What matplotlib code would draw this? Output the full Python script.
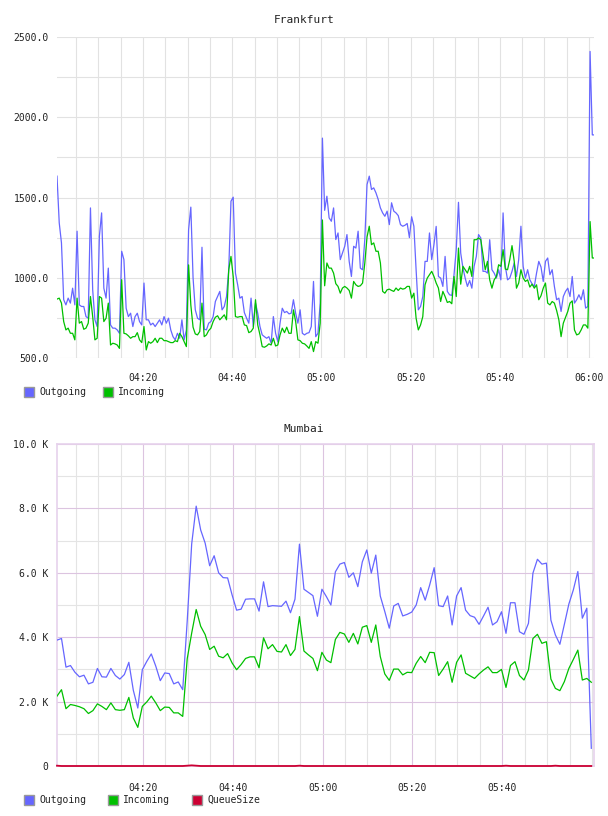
import matplotlib
matplotlib.use("Agg")
import matplotlib.pyplot as plt
from matplotlib.patches import Rectangle
from matplotlib.ticker import FixedLocator, FuncFormatter, MultipleLocator

# ---- Frankfurt: one sample every 30 s, first one at 04:00:43 (minutes after 04:00)
fra_start = 0.72
fra_step = 0.5
fra_out = [1633, 1342, 1217, 863, 831, 873, 842, 935, 831, 1290,
           831, 821, 821, 758, 748, 1435, 925, 738, 696, 1258,
           1404, 935, 873, 1060, 706, 686, 686, 675, 654, 1165,
           1113, 810, 758, 779, 696, 758, 779, 727, 706, 967,
           738, 738, 706, 717, 696, 717, 738, 706, 758, 717,
           748, 675, 633, 613, 654, 623, 738, 613, 675, 1300,
           1440, 1000, 800, 748, 738, 1190, 680, 675, 717, 727,
           758, 852, 883, 915, 800, 821, 883, 1050, 1477, 1502,
           1029, 956, 873, 883, 783, 748, 717, 873, 696, 842,
           779, 696, 644, 633, 623, 633, 592, 758, 654, 602,
           717, 810, 783, 790, 775, 779, 863, 779, 717, 800,
           654, 644, 654, 658, 696, 977, 633, 654, 842, 1870,
           1420, 1508, 1373, 1352, 1435, 1238, 1279, 1113, 1154, 1196,
           1269, 1102, 1008, 1196, 1185, 1290, 1060, 1050, 1238, 1581,
           1633, 1550, 1560, 1529, 1488, 1435, 1404, 1383, 1415, 1331,
           1467, 1415, 1404, 1387, 1331, 1321, 1327, 1338, 1250, 1380,
           1321, 1050, 800, 821, 883, 1102, 1102, 1279, 1113, 1206,
           1320, 1008, 998, 946, 1133, 915, 894, 890, 1019, 1175,
           1470, 1154, 1061, 998, 946, 983, 935, 1071, 1133, 1269,
           1248, 1040, 1040, 1029, 1237, 1050, 1029, 998, 1050, 987,
           1404, 1071, 987, 998, 1040, 1092, 1008, 1113, 1321, 1071,
           998, 1050, 987, 962, 946, 1029, 1102, 1067, 977, 1102,
           1123, 1019, 1050, 946, 863, 873, 790, 883, 915, 935,
           883, 1008, 842, 863, 894, 863, 925, 811, 821, 2410,
           1890, 1890]
fra_in = [867, 873, 842, 727, 675, 686, 654, 654, 613, 873,
          717, 727, 679, 686, 717, 883, 758, 613, 623, 883,
          873, 727, 748, 842, 581, 592, 588, 581, 560, 988,
          654, 650, 638, 623, 633, 633, 658, 613, 596, 696,
          550, 602, 592, 602, 623, 596, 623, 623, 608, 608,
          602, 596, 596, 608, 602, 654, 633, 602, 571, 1080,
          830, 692, 650, 644, 665, 842, 633, 644, 671, 686,
          727, 754, 763, 738, 754, 769, 738, 1050, 1133, 1008,
          758, 754, 758, 758, 706, 702, 658, 665, 686, 863,
          706, 644, 571, 567, 575, 588, 581, 623, 575, 581,
          644, 686, 658, 692, 654, 654, 800, 727, 613, 608,
          592, 588, 575, 560, 602, 540, 602, 592, 717, 1360,
          950, 1092, 1060, 1060, 1029, 963, 946, 904, 936, 946,
          936, 921, 873, 977, 956, 946, 950, 967, 1092, 1254,
          1321, 1206, 1217, 1165, 1165, 1092, 915, 904, 925, 929,
          921, 915, 936, 921, 936, 929, 933, 946, 946, 873,
          904, 748, 675, 706, 758, 956, 998, 1019, 1040, 1008,
          967, 936, 852, 915, 883, 846, 852, 838, 1008, 883,
          1185, 960, 1071, 1050, 1029, 1071, 1008, 1237, 1237, 1248,
          1237, 1144, 1050, 1102, 987, 935, 987, 1008, 1081, 1071,
          1175, 1054, 1050, 1113, 1200, 1102, 935, 967, 1050, 998,
          977, 987, 942, 960, 935, 956, 863, 888, 935, 967,
          842, 831, 852, 842, 796, 738, 633, 717, 754, 790,
          842, 856, 675, 644, 650, 675, 706, 706, 686, 1350,
          1123, 1123]

# ---- Mumbai: one sample per minute, values in thousands
mum_start = 0.85
mum_step = 1.0
mum_out = [3.91, 3.96, 3.07, 3.12, 2.91, 2.77, 2.82, 2.55, 2.60, 3.03,
           2.77, 2.76, 3.03, 2.81, 2.70, 2.84, 3.22, 2.35, 1.80, 2.99,
           3.25, 3.48, 3.10, 2.65, 2.89, 2.87, 2.55, 2.61, 2.37, 4.50,
           6.90, 8.07, 7.33, 6.92, 6.22, 6.53, 6.00, 5.85, 5.84, 5.31,
           4.84, 4.87, 5.18, 5.19, 5.19, 4.81, 5.72, 4.95, 4.98, 4.97,
           4.96, 5.12, 4.76, 5.18, 6.89, 5.49, 5.39, 5.29, 4.65, 5.49,
           5.26, 5.00, 6.03, 6.27, 6.32, 5.86, 6.00, 5.57, 6.34, 6.71,
           5.99, 6.55, 5.28, 4.80, 4.28, 4.97, 5.05, 4.66, 4.71, 4.78,
           5.00, 5.54, 5.15, 5.62, 6.16, 4.98, 4.95, 5.28, 4.38, 5.28,
           5.54, 4.84, 4.67, 4.62, 4.40, 4.66, 4.93, 4.38, 4.48, 4.79,
           4.12, 5.07, 5.07, 4.17, 4.09, 4.43, 5.99, 6.42, 6.27, 6.30,
           4.53, 4.07, 3.78, 4.40, 5.03, 5.47, 6.04, 4.59, 4.90, 0.55]
mum_in = [2.17, 2.37, 1.78, 1.91, 1.88, 1.84, 1.78, 1.63, 1.72, 1.93,
          1.85, 1.75, 1.96, 1.75, 1.73, 1.75, 2.13, 1.49, 1.20, 1.85,
          1.99, 2.17, 1.96, 1.72, 1.83, 1.82, 1.65, 1.65, 1.54, 3.33,
          4.13, 4.86, 4.34, 4.08, 3.62, 3.72, 3.41, 3.36, 3.49, 3.20,
          2.99, 3.15, 3.34, 3.39, 3.39, 3.05, 3.98, 3.64, 3.77, 3.56,
          3.54, 3.77, 3.43, 3.62, 4.64, 3.57, 3.45, 3.34, 2.96, 3.53,
          3.29, 3.21, 3.93, 4.15, 4.10, 3.84, 4.12, 3.79, 4.31, 4.36,
          3.84, 4.38, 3.40, 2.86, 2.66, 3.01, 3.01, 2.83, 2.91, 2.90,
          3.19, 3.40, 3.21, 3.53, 3.52, 2.81, 3.01, 3.24, 2.60, 3.22,
          3.45, 2.88, 2.80, 2.72, 2.86, 2.98, 3.08, 2.90, 2.90, 3.00,
          2.44, 3.12, 3.24, 2.81, 2.67, 2.98, 3.96, 4.09, 3.81, 3.86,
          2.70, 2.41, 2.34, 2.62, 3.03, 3.31, 3.60, 2.67, 2.72, 2.60]
mum_queue = [0.01, 0.0, 0.0, 0.0, 0.0, 0.0, 0.0, 0.0, 0.0, 0.0,
             0.0, 0.0, 0.0, 0.0, 0.0, 0.0, 0.0, 0.0, 0.0, 0.0,
             0.0, 0.0, 0.0, 0.0, 0.0, 0.0, 0.0, 0.0, 0.0, 0.01,
             0.02, 0.01, 0.0, 0.0, 0.0, 0.0, 0.0, 0.0, 0.0, 0.0,
             0.0, 0.0, 0.0, 0.0, 0.0, 0.0, 0.0, 0.0, 0.0, 0.0,
             0.0, 0.0, 0.0, 0.0, 0.01, 0.0, 0.0, 0.0, 0.0, 0.0,
             0.0, 0.0, 0.0, 0.0, 0.0, 0.0, 0.0, 0.0, 0.0, 0.0,
             0.0, 0.0, 0.0, 0.0, 0.0, 0.0, 0.0, 0.0, 0.0, 0.0,
             0.0, 0.0, 0.0, 0.0, 0.0, 0.0, 0.0, 0.0, 0.0, 0.0,
             0.0, 0.0, 0.0, 0.0, 0.0, 0.0, 0.0, 0.0, 0.0, 0.0,
             0.01, 0.0, 0.0, 0.0, 0.0, 0.0, 0.0, 0.0, 0.0, 0.0,
             0.0, 0.01, 0.0, 0.0, 0.0, 0.0, 0.0, 0.0, 0.0, 0.0]

fra_ticks = [20, 40, 60, 80, 100, 120]
fra_tick_labels = ["04:20", "04:40", "05:00", "05:20", "05:40", "06:00"]
mum_ticks = [20, 40, 60, 80, 100]
mum_tick_labels = ["04:20", "04:40", "05:00", "05:20", "05:40"]

BLUE = "#6666ff"
GREEN = "#00c000"
RED = "#cc0033"
TXT = "#222222"
FONT = "DejaVu Sans Mono"

plt.rcParams["font.family"] = FONT
plt.rcParams["font.size"] = 7

W, H = 608, 816
fig = plt.figure(figsize=(W / 100, H / 100), dpi=100, facecolor="w")


def px_axes(x0, y0, x1, y1):
    return fig.add_axes([x0 / W, 1 - y1 / H, (x1 - x0) / W, (y1 - y0) / H])


def legend_entry(x, y, color, label):
    fig.add_artist(Rectangle((x / W, 1 - (y + 10) / H), 10 / W, 10 / H,
                             transform=fig.transFigure, facecolor=color,
                             edgecolor="#999999", linewidth=1.0))
    fig.text((x + 15) / W, 1 - (y + 5) / H, label, ha="left", va="center",
             color=TXT, fontsize=7)


# ---------------- Frankfurt
ax1 = px_axes(57, 37, 594, 358)
t1 = [fra_start + fra_step * k for k in range(len(fra_out))]
ax1.plot(t1, fra_out, color=BLUE, lw=0.9, zorder=3)
ax1.plot(t1, fra_in, color=GREEN, lw=0.9, zorder=4)
ax1.set_xlim(0.72, 121.1)
ax1.set_ylim(500, 2500)
ax1.xaxis.set_major_locator(FixedLocator(fra_ticks))
ax1.set_xticklabels(fra_tick_labels)
ax1.xaxis.set_minor_locator(MultipleLocator(5))
ax1.yaxis.set_major_locator(MultipleLocator(500))
ax1.yaxis.set_minor_locator(MultipleLocator(250))
ax1.yaxis.set_major_formatter(FuncFormatter(lambda v, p: "%.1f" % v))
ax1.grid(True, which="both", color="#e2e2e2", lw=0.8)
ax1.set_axisbelow(True)
for s in ax1.spines.values():
    s.set_visible(False)
ax1.tick_params(which="both", length=0, colors=TXT, labelsize=7)
ax1.tick_params(axis="x", pad=11)
ax1.tick_params(axis="y", pad=6)
fig.text(304 / W, 1 - 20 / H, "Frankfurt", ha="center", va="center",
         fontsize=8, color=TXT)

legend_entry(24, 387, BLUE, "Outgoing")
legend_entry(103, 387, GREEN, "Incoming")

# ---------------- Mumbai
ax2 = px_axes(57, 444, 594, 766)
t2 = [mum_start + mum_step * k for k in range(len(mum_out))]
ax2.plot(t2, mum_out, color=BLUE, lw=0.9, zorder=3)
ax2.plot(t2, mum_in, color=GREEN, lw=0.9, zorder=4)
ax2.plot(t2, mum_queue, color=RED, lw=1.3, zorder=5, clip_on=False)
ax2.set_xlim(0.85, 120.45)
ax2.set_ylim(0, 10)
ax2.xaxis.set_major_locator(FixedLocator(mum_ticks))
ax2.set_xticklabels(mum_tick_labels)
ax2.xaxis.set_minor_locator(MultipleLocator(5))
ax2.yaxis.set_major_locator(MultipleLocator(2))
ax2.yaxis.set_minor_locator(MultipleLocator(1))
ax2.yaxis.set_major_formatter(
    FuncFormatter(lambda v, p: "0" if v == 0 else "%.1f K" % v))
ax2.grid(True, which="minor", color="#e4e4e4", lw=0.8)
ax2.grid(True, which="major", color="#dcc4e0", lw=0.8)
ax2.set_axisbelow(True)
for s in ax2.spines.values():
    s.set_color("#e6d2ec")
    s.set_linewidth(1.2)
ax2.tick_params(which="both", length=0, colors=TXT, labelsize=7)
ax2.tick_params(axis="x", pad=12)
ax2.tick_params(axis="y", pad=6)
fig.text(304 / W, 1 - 429 / H, "Mumbai", ha="center", va="center",
         fontsize=8, color=TXT)

legend_entry(24, 795, BLUE, "Outgoing")
legend_entry(108, 795, GREEN, "Incoming")
legend_entry(192, 795, RED, "QueueSize")

fig.savefig("out.png", dpi=100, facecolor="w")
